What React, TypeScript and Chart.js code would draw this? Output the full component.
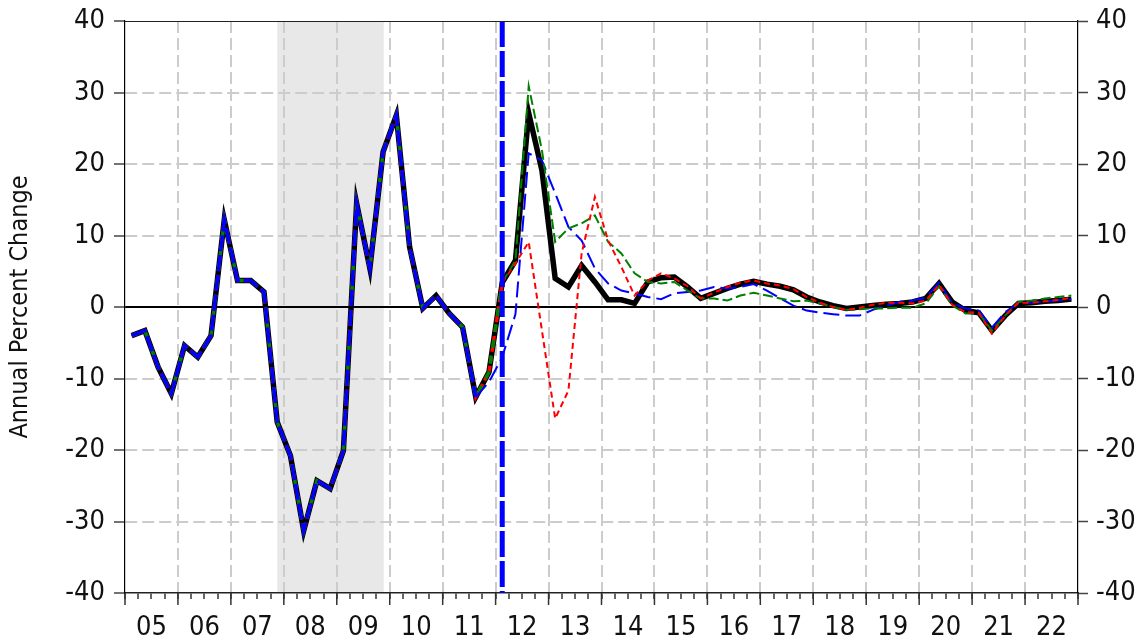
import React, { useEffect, useRef } from "react";
import { Chart, registerables } from "chart.js";

Chart.register(...registerables);

// Year labels (2005 .. 2022), quarterly data: 72 quarters
const yearLabels = ["05", "06", "07", "08", "09", "10", "11", "12", "13", "14", "15", "16", "17", "18", "19", "20", "21", "22"];

// Actual (black)
const actual = [
  -4.0, -3.3, -8.4, -12.1, -5.4, -7.0, -4.0, 12.2, 3.7, 3.7, 2.1, -16.1,
  -20.8, -31.3, -24.3, -25.4, -20.1, 14.5, 5.4, 21.7, 26.8, 8.4, -0.2, 1.6,
  -0.9, -2.8, -12.6, -9.1, 3.4, 6.5, 27.1, 19.1, 4.0, 2.8, 5.8, 3.5,
  1.0, 1.0, 0.5, 3.5, 4.1, 4.2, 2.8, 1.2, 1.9, 2.6, 3.2, 3.6,
  3.2, 2.9, 2.4, 1.4, 0.7, 0.2, -0.2, 0.0, 0.2, 0.4, 0.5, 0.7,
  1.2, 3.3, 0.7, -0.5, -0.8, -3.3, -1.2, 0.5, 0.6, 0.8, 0.9, 1.1,
];

// Green dashed scenario
const scenarioGreen = [
  -4.0, -3.3, -8.4, -12.1, -5.4, -7.0, -4.0, 12.2, 3.7, 3.7, 2.1, -16.1,
  -20.8, -31.3, -24.3, -25.4, -20.1, 14.5, 5.4, 21.7, 26.8, 8.4, -0.2, 1.6,
  -0.9, -2.8, -12.6, -9.1, 3.4, 6.5, 30.9, 21.9, 9.1, 11.0, 11.7, 12.8,
  9.1, 7.5, 4.7, 3.5, 3.3, 3.5, 2.3, 1.2, 1.2, 0.9, 1.6, 2.0,
  1.6, 1.2, 0.8, 0.9, 0.5, 0.0, -0.4, -0.3, -0.2, -0.2, -0.1, -0.1,
  0.5, 2.9, 0.2, -0.9, -0.9, -3.3, -1.2, 0.7, 0.9, 1.2, 1.4, 1.6,
];

// Red short-dashed scenario
const scenarioRed = [
  -4.0, -3.3, -8.4, -12.1, -5.4, -7.0, -4.0, 12.2, 3.7, 3.7, 2.1, -16.1,
  -20.8, -31.3, -24.3, -25.4, -20.1, 14.5, 5.4, 21.7, 26.8, 8.4, -0.2, 1.6,
  -0.9, -2.8, -12.6, -9.1, 3.4, 6.1, 9.1, -3.3, -15.6, -11.7, 7.5, 15.4,
  9.3, 5.6, 1.6, 3.7, 4.7, 4.0, 2.9, 1.2, 2.0, 2.8, 3.4, 3.7,
  3.3, 3.0, 2.5, 1.4, 0.6, 0.0, -0.4, -0.1, 0.3, 0.6, 0.6, 0.5,
  0.9, 3.1, 0.3, -0.7, -0.8, -3.7, -1.2, 0.6, 0.6, 0.8, 1.0, 1.3,
];

// Blue long-dashed scenario (history up to the 2011Q3 trough equals actual)
const scenarioBlue = [
  -4.0, -3.3, -8.4, -12.1, -5.4, -7.0, -4.0, 12.2, 3.7, 3.7, 2.1, -16.1,
  -20.8, -31.3, -24.3, -25.4, -20.1, 14.5, 5.4, 21.7, 26.8, 8.4, -0.2, 1.6,
  -0.9, -2.8, -12.6, -10.5, -7.0, -1.0, 21.5, 20.5, 15.9, 11.2, 9.3, 5.4,
  3.3, 2.3, 1.9, 1.4, 1.1, 1.9, 2.1, 2.3, 2.8, 2.6, 2.8, 3.2,
  2.3, 1.2, 0.2, -0.5, -0.8, -1.0, -1.2, -1.2, -0.4, 0.2, 0.7, 0.9,
  1.3, 3.4, 0.5, -0.2, -0.5, -2.9, -0.7, 0.5, 0.6, 0.8, 0.9, 1.1,
];

// Index where the blue scenario leaves history, and where red/green leave it
const blueSplit = 26;
const redGreenSplit = 28;
// Shaded recession span and forecast start (in quarter-index units)
const recessionStart = 11.5;
const recessionEnd = 19.55;
const forecastStart = 28.5;

const FONT = "'Liberation Sans Narrow', 'Arial Narrow', 'DejaVu Sans Condensed', sans-serif";

const toPoints = (arr: (number | null)[], from = 0, to = 1000) =>
  arr.map((v, i) => ({ x: i + 0.5, y: i >= from && i <= to ? v : null }));

const decorPlugin = {
  id: "decor",
  beforeDraw(chart: any) {
    const { ctx, chartArea, scales } = chart;
    const x = scales.x;
    const x1 = x.getPixelForValue(recessionStart);
    const x2 = x.getPixelForValue(recessionEnd);
    ctx.save();
    ctx.fillStyle = "#e8e8e8";
    ctx.fillRect(x1, chartArea.top, x2 - x1, chartArea.bottom - chartArea.top);
    ctx.restore();
  },
  afterDraw(chart: any) {
    const { ctx, chartArea, scales } = chart;
    const x = scales.x;
    ctx.save();
    ctx.strokeStyle = "#222";
    ctx.lineWidth = 1.2;
    ctx.beginPath();
    ctx.moveTo(chartArea.left, chartArea.top + 0.5);
    ctx.lineTo(chartArea.right, chartArea.top + 0.5);
    ctx.stroke();
    ctx.strokeStyle = "#333";
    ctx.lineWidth = 1.5;
    for (let k = 0; k <= yearLabels.length; k++) {
      const px = x.getPixelForValue(k * 4);
      ctx.beginPath();
      ctx.moveTo(px, chartArea.bottom);
      ctx.lineTo(px, chartArea.bottom + 12);
      ctx.stroke();
    }
    ctx.restore();
  },
};

export default function App() {
  const ref = useRef<HTMLCanvasElement | null>(null);

  useEffect(() => {
    if (!ref.current) return;
    const tickVal = (c: any) => (c && c.tick ? c.tick.value : undefined);
    const fitVertical = (w: number) => (s: any) => {
      s.width = w;
      s.paddingTop = 0;
      s.paddingBottom = 0;
    };
    const line = (data: any, color: string, width: number, dash: number[], order: number) => ({
      data,
      borderColor: color,
      borderWidth: width,
      borderDash: dash,
      pointRadius: 0,
      order,
    });
    const chart = new Chart(ref.current, {
      type: "line",
      data: {
        datasets: [
          line(
            [
              { x: forecastStart, y: 40 },
              { x: forecastStart, y: -40 },
            ],
            "#0000ff",
            5,
            [26, 4],
            1
          ),
          line(toPoints(scenarioRed, redGreenSplit), "#ff0000", 2, [6, 4], 2),
          line(toPoints(scenarioGreen, redGreenSplit), "#008000", 2, [10, 4], 3),
          line(toPoints(scenarioBlue, blueSplit), "#0000ff", 2, [16, 6], 4),
          line(toPoints(scenarioBlue, 0, blueSplit), "#0000ff", 3.5, [16, 4], 6),
          line(toPoints(scenarioGreen, 0, redGreenSplit), "#008000", 3.5, [8, 8], 7),
          line(toPoints(scenarioRed, 0, redGreenSplit), "#ff0000", 3.5, [6, 4], 8),
          line(toPoints(actual), "#000000", 5.5, [], 9),
        ],
      },
      options: {
        responsive: false,
        animation: false,
        devicePixelRatio: 1,
        layout: { padding: { top: 21, left: 0, right: 0, bottom: 0 } },
        plugins: { legend: { display: false }, tooltip: { enabled: false } },
        elements: { line: { tension: 0, borderCapStyle: "butt", borderJoinStyle: "miter" } },
        scales: {
          x: {
            type: "linear",
            min: 0,
            max: 72,
            afterBuildTicks: (s: any) => {
              s.ticks = Array.from({ length: 73 }, (_, i) => ({ value: i }));
            },
            afterFit: (s: any) => {
              s.height = 50;
              s.paddingLeft = 0;
              s.paddingRight = 0;
            },
            ticks: {
              autoSkip: false,
              maxRotation: 0,
              minRotation: 0,
              padding: 13,
              color: "#111",
              font: { family: FONT, size: 27 },
              callback: (v: any) => {
                const n = Math.round(Number(v));
                return n % 4 === 2 ? yearLabels[(n - 2) / 4] : "";
              },
            },
            grid: {
              color: (c: any) => {
                const v = tickVal(c);
                return v !== undefined && v % 4 === 0 && v > 0 && v < 72 ? "#cccccc" : "rgba(0,0,0,0)";
              },
              lineWidth: 2,
              tickColor: "#333",
              tickLength: 6,
              tickWidth: 1.5,
              drawTicks: true,
            },
            border: { display: true, color: "#222", width: 1.5, dash: [12, 5] },
          },
          y: {
            position: "left",
            min: -40,
            max: 40,
            afterFit: fitVertical(125),
            ticks: {
              stepSize: 10,
              padding: 9,
              color: "#111",
              font: { family: FONT, size: 27 },
              callback: (v: any) => String(v),
            },
            grid: {
              color: (c: any) => {
                const v = tickVal(c);
                if (v === 0) return "#000000";
                if (v === 40 || v === -40) return "rgba(0,0,0,0)";
                return "#cccccc";
              },
              lineWidth: 2,
              tickColor: "#444",
              tickLength: 11,
              tickWidth: 1.5,
            },
            border: {
              display: true,
              color: "#000",
              width: 1.2,
              dash: (c: any) => (tickVal(c) === 0 ? [] : [12, 5]),
            },
            title: {
              display: true,
              text: "Annual Percent Change",
              color: "#111",
              font: { family: FONT, size: 25 },
              padding: { top: 5, bottom: 0 },
            },
          },
          y2: {
            position: "right",
            min: -40,
            max: 40,
            afterFit: fitVertical(59),
            ticks: {
              stepSize: 10,
              padding: 8,
              color: "#111",
              font: { family: FONT, size: 27 },
              callback: (v: any) => String(v),
            },
            grid: {
              drawOnChartArea: false,
              tickColor: "#444",
              tickLength: 10,
              tickWidth: 1.5,
            },
            border: { display: true, color: "#000", width: 1.2 },
          },
        },
      },
      plugins: [decorPlugin],
    } as any);
    return () => chart.destroy();
  }, []);

  return (
    <div style={{ position: "absolute", left: 0, top: 0, width: 1137, height: 643, background: "#fff" }}>
      <canvas ref={ref} width={1137} height={643} style={{ display: "block", width: 1137, height: 643 }} />
    </div>
  );
}
